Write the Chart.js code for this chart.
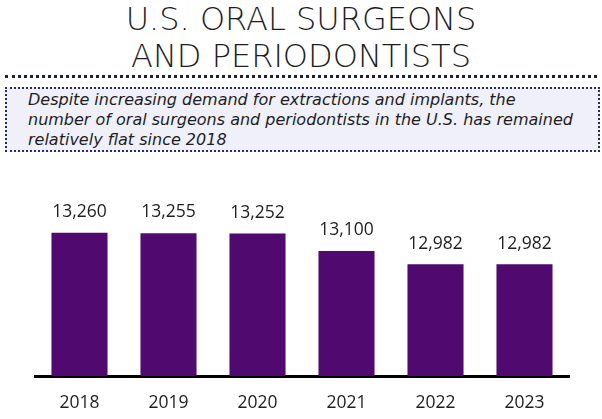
<!DOCTYPE html>
<html>
<head>
<meta charset="utf-8">
<script src="https://cdn.jsdelivr.net/npm/chart.js@4"></script>
<style>
  html, body { margin: 0; padding: 0; background: #fff; }
  body { width: 602px; height: 419px; position: relative; overflow: hidden; font-family: "Open Sans", sans-serif; color: #1e1e1e; }
  #title { position: absolute; top: 1px; left: 0; width: 602px; text-align: center; font-family: "DejaVu Sans", sans-serif; font-weight: 200; font-size: 32px; line-height: 37px; }
  #rule { position: absolute; top: 75px; left: 5px; width: 592px; border-top: 3px dotted #1d1f3f; }
  #note { position: absolute; top: 87px; left: 5px; width: 570px; height: 60px; padding: 1px 0 0 21px; background: #eff0fa; border: 2px dotted #262b6a; font-family: "DejaVu Sans", sans-serif; font-style: italic; font-size: 16px; line-height: 20px; white-space: nowrap; }
  #wrap { position: absolute; top: 160px; left: 0; width: 602px; height: 271px; }
</style>
</head>
<body>
<div id="title">U.S. ORAL SURGEONS<br>AND PERIODONTISTS</div>
<div id="rule"></div>
<div id="note">Despite increasing demand for extractions and implants, the<br>number of oral surgeons and periodontists in the U.S. has remained<br>relatively flat since 2018</div>
<div id="wrap"><canvas id="chart"></canvas></div>
<script>
const years = ['2018', '2019', '2020', '2021', '2022', '2023'];
const surgeons = [13260, 13255, 13252, 13100, 12982, 12982];

// prints each bar's value above it
const valueLabels = {
    id: 'valueLabels',
    afterDatasetsDraw(chart) {
        const ctx = chart.ctx;
        const meta = chart.getDatasetMeta(0);
        ctx.save();
        ctx.font = '17.5px "Open Sans"';
        ctx.fillStyle = '#1e1e1e';
        ctx.textAlign = 'center';
        ctx.textBaseline = 'bottom';
        meta.data.forEach((bar, i) => {
            ctx.fillText(surgeons[i].toLocaleString('en-US'), bar.x, bar.y - 12);
        });
        ctx.restore();
    }
};

const ctx = document.getElementById('chart').getContext('2d');
new Chart(ctx, {
    type: 'bar',
    data: {
        labels: years,
        datasets: [{
            data: surgeons,
            backgroundColor: '#500a6f',
            borderWidth: 0,
            categoryPercentage: 1,
            barPercentage: 0.63
        }]
    },
    options: {
        responsive: true,
        maintainAspectRatio: false,
        animation: false,
        layout: {padding: {left: 35, right: 33, top: 34, bottom: 0}},
        plugins: {legend: {display: false}, tooltip: {enabled: false}},
        scales: {
            x: {
                grid: {display: false, drawTicks: false},
                border: {display: true, color: '#000', width: 3},
                ticks: {color: '#1e1e1e', padding: 17, font: {family: 'Open Sans', size: 17.5}}
            },
            y: {
                display: false,
                min: 12000,
                max: 13600
            }
        }
    },
    plugins: [valueLabels]
});
</script>
</body>
</html>
